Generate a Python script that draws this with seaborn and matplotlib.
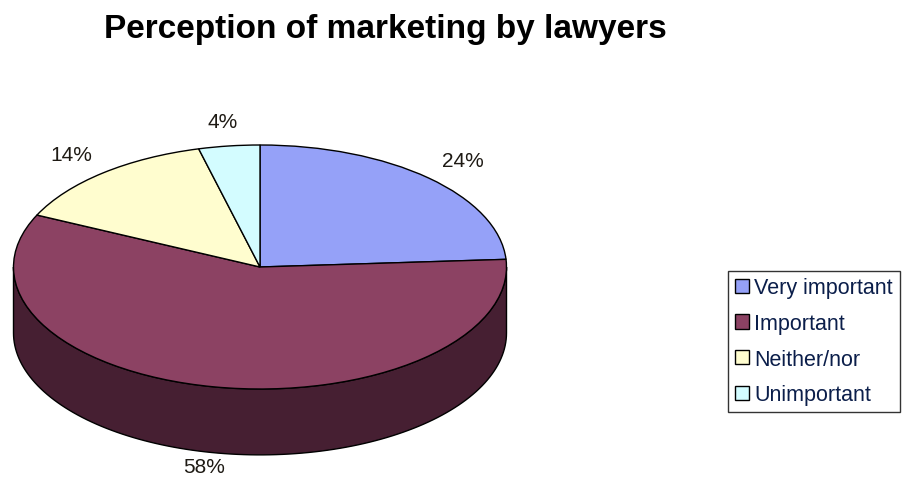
import numpy as np
import matplotlib
matplotlib.use('Agg')
import matplotlib.pyplot as plt
import seaborn as sns

sns.set_theme(style="white")
plt.rcParams['font.family'] = ['Liberation Sans', 'DejaVu Sans']

categories = ['Very important', 'Important', 'Neither/nor', 'Unimportant']
shares = [24, 58, 14, 4]
pct_labels = ['24%', '58%', '14%', '4%']
top_colors = ['#95A1F8', '#8C4263', '#FFFDCF', '#D3FCFF']
side_colors = ['#4B5290', '#461F32', '#8F8D6F', '#6F8E90']

depth = 0.54  # thickness of the disc, in y units of the pie

fig = plt.figure(figsize=(9.02, 4.85), dpi=100)
ax = fig.add_axes([0, 0, 520 / 902, 385 / 485])

wedges, _ = ax.pie(shares, colors=top_colors, startangle=90, counterclock=False,
                   radius=1, wedgeprops=dict(edgecolor='black', linewidth=1.0, zorder=3))
ax.set_aspect('auto')
ax.set_xlim(-260 / 246.5, 260 / 246.5)
ax.set_ylim(-217 / 122, 168 / 122)

# front rim of the disc (only the part facing the viewer)
for w, col in zip(wedges, side_colors):
    for k in (-1, 0, 1):
        lo = max(w.theta1, -180 + 360 * k)
        hi = min(w.theta2, 0 + 360 * k)
        if hi <= lo:
            continue
        t = np.radians(np.linspace(lo, hi, 120))
        xs = np.concatenate([np.cos(t), np.cos(t[::-1])])
        ys = np.concatenate([np.sin(t), np.sin(t[::-1]) - depth])
        ax.fill(xs, ys, facecolor=col, edgecolor='black', linewidth=1.0, zorder=2)

# percentage labels outside the disc
for w, lab in zip(wedges, pct_labels):
    mid = np.radians((w.theta1 + w.theta2) / 2)
    x, y = 1.2 * np.cos(mid), 1.2 * np.sin(mid)
    if y < 0:
        y -= depth * 0.85
    ax.text(x, y, lab, ha='center', va='center', fontsize=15, color='#1E1A14')

fig.text(0.427, 0.94, 'Perception of marketing by lawyers', ha='center', va='center',
         fontsize=24, fontweight='bold', color='black')

leg = fig.legend(wedges, categories, loc='upper left', bbox_to_anchor=(0.807, 0.44),
                 fontsize=15.5, frameon=True, fancybox=False, edgecolor='black',
                 handlelength=0.65, handleheight=0.65, handletextpad=0.25,
                 labelspacing=0.68, borderpad=0.32, borderaxespad=0)
leg.get_frame().set_linewidth(1.0)
for t in leg.get_texts():
    t.set_color('#0B1E4A')

fig.savefig('out.png', dpi=100)
